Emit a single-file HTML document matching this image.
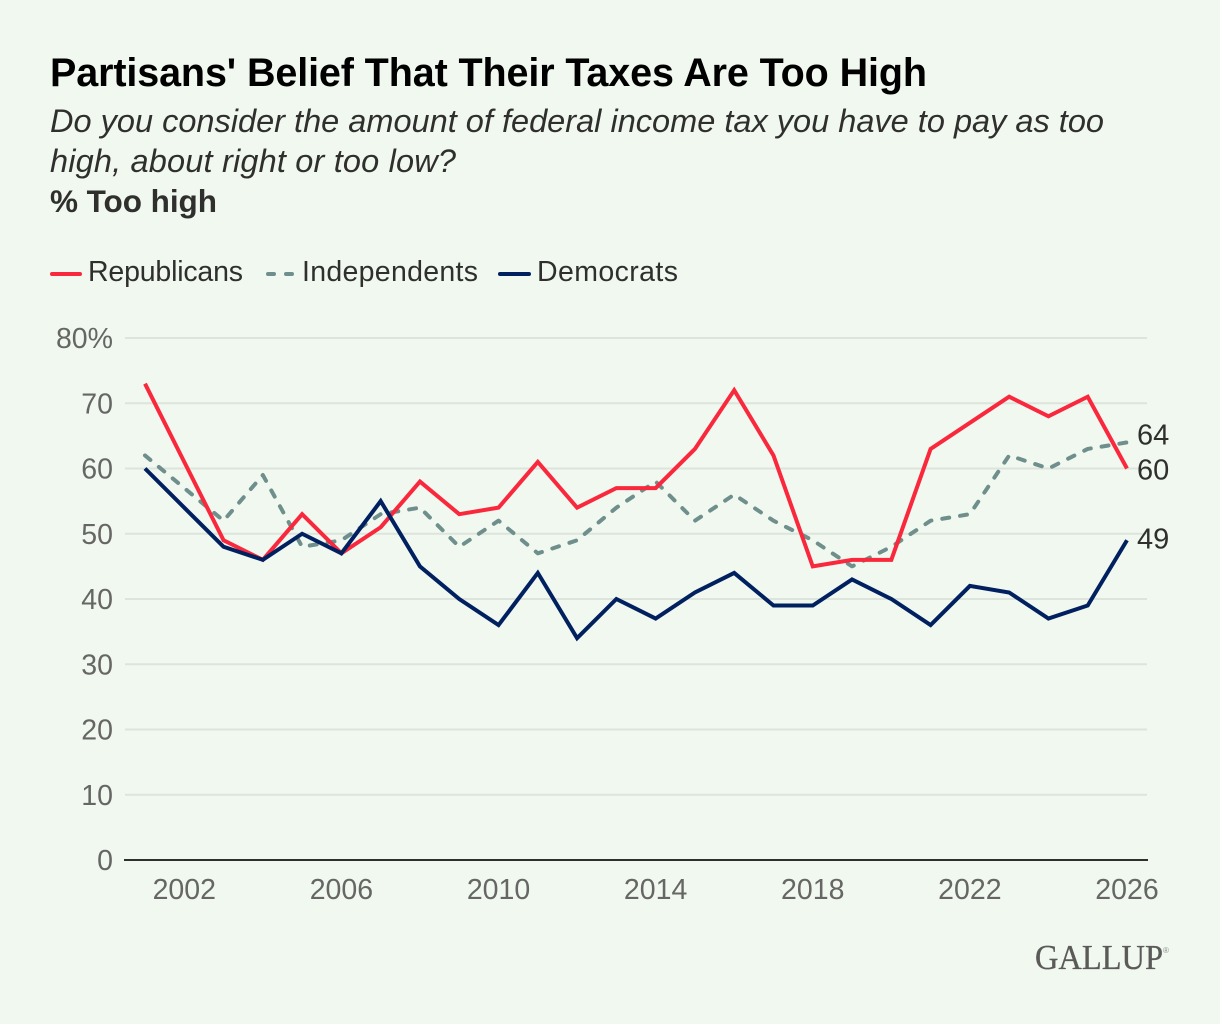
<!DOCTYPE html>
<html lang="en">
<head>
<meta charset="utf-8">
<title>Partisans' Belief That Their Taxes Are Too High</title>
<style>
html,body{margin:0;padding:0;background:#f1f8f0;width:1220px;height:1024px;overflow:hidden}
svg{display:block;font-family:"Liberation Sans",sans-serif}
</style>
</head>
<body>
<svg id="chart" xmlns="http://www.w3.org/2000/svg" width="1220" height="1024" viewBox="0 0 1220 1024">
  <rect x="0" y="0" width="1220" height="1024" fill="#f1f8f0"/>
  <text x="50" y="86" font-size="39.5" font-weight="700" fill="#000" textLength="877" lengthAdjust="spacing">Partisans' Belief That Their Taxes Are Too High</text>
  <text x="50" y="132" font-size="32.5" font-style="italic" fill="#2f302e" textLength="1054" lengthAdjust="spacing">Do you consider the amount of federal income tax you have to pay as too</text>
  <text x="50" y="172" font-size="32.5" font-style="italic" fill="#2f302e" textLength="406" lengthAdjust="spacing">high, about right or too low?</text>
  <text x="50" y="212" font-size="31.5" font-weight="700" fill="#2f302e" textLength="167" lengthAdjust="spacing">% Too high</text>

  <g>
    <line x1="52" y1="274" x2="80" y2="274" stroke="#f9283c" stroke-width="4" stroke-linecap="round"/>
    <text x="88" y="281" font-size="28.5" fill="#2f302e" textLength="155" lengthAdjust="spacing">Republicans</text>
    <line x1="268" y1="274" x2="294" y2="274" stroke="#6f8f8c" stroke-width="4" stroke-linecap="round" stroke-dasharray="6 12"/>
    <text x="302" y="281" font-size="28.5" fill="#2f302e" textLength="176" lengthAdjust="spacing">Independents</text>
    <line x1="500" y1="274" x2="529" y2="274" stroke="#00205f" stroke-width="4" stroke-linecap="round"/>
    <text x="537" y="281" font-size="28.5" fill="#2f302e" textLength="141" lengthAdjust="spacing">Democrats</text>
  </g>

  <g id="y-grid"></g>
  <g id="x-axis"></g>
  <g id="series"></g>
  <g id="end-labels"></g>

  <text x="1035" y="969" font-family="Liberation Serif, serif" font-size="35" fill="#5a5a58" stroke="#5a5a58" stroke-width="0.3" textLength="128" lengthAdjust="spacingAndGlyphs">GALLUP</text>
  <text x="1163" y="953" font-family="Liberation Sans, sans-serif" font-size="8" fill="#8a8a88">®</text>
</svg>
<script>
const years = [2001,2002,2003,2004,2005,2006,2007,2008,2009,2010,2011,2012,2013,2014,2015,2016,2017,2018,2019,2020,2021,2022,2023,2024,2025,2026];
const republicans = [73,61,49,46,53,47,51,58,53,54,61,54,57,57,63,72,62,45,46,46,63,67,71,68,71,60];
const independents = [62,57,52,59,48,49,53,54,48,52,47,49,54,58,52,56,52,49,45,48,52,53,62,60,63,64];
const democrats = [60,54,48,46,50,47,55,45,40,36,44,34,40,37,41,44,39,39,43,40,36,42,41,37,39,49];
const yTicks = [0,10,20,30,40,50,60,70,80];
const xTicks = [2002,2006,2010,2014,2018,2022,2026];

const NS = 'http://www.w3.org/2000/svg';
function xScale(year){ return 145 + (year - 2001) * (1127 - 145) / 25; }
function yScale(v){ return 860 - v * (860 - 338) / 80; }
function make(tag, attrs, parent, txt){
  const el = document.createElementNS(NS, tag);
  for (const k in attrs) el.setAttribute(k, attrs[k]);
  if (txt !== undefined) el.textContent = txt;
  parent.appendChild(el);
  return el;
}

const yGroup = document.getElementById('y-grid');
yTicks.forEach(function(t){
  const y = yScale(t);
  if (t !== 0) {
    const g = make('line', {x1:125, x2:1147, y1:y, y2:y, stroke:'#dce4dc', 'stroke-width':2}, yGroup);
    
    
  }
  const lab = make('text', {x:113, y:y+10, 'text-anchor':'end', 'font-size':28.5, fill:'#666764'}, yGroup, t === 80 ? '80%' : String(t));
  
  
});

const xGroup = document.getElementById('x-axis');
const base = make('line', {x1:124, x2:1148, y1:yScale(0), y2:yScale(0), stroke:'#2f302e', 'stroke-width':2}, xGroup);


xTicks.forEach(function(t){
  const lab = make('text', {x:xScale(t), y:899, 'text-anchor':'middle', 'font-size':28.5, fill:'#666764'}, xGroup, String(t));
  
  
});

function pathFor(values){
  return values.map(function(v, i){ return (i ? 'L' : 'M') + xScale(years[i]).toFixed(2) + ' ' + yScale(v).toFixed(2); }).join(' ');
}
const seriesGroup = document.getElementById('series');

const indLine = make('path', {d:pathFor(independents), fill:'none', stroke:'#6f8f8c', 'stroke-width':4, 'stroke-linecap':'round', 'stroke-linejoin':'round', 'stroke-dasharray':'7 11'}, seriesGroup);



const repLine = make('path', {d:pathFor(republicans), fill:'none', stroke:'#f9283c', 'stroke-width':4, 'stroke-linejoin':'miter'}, seriesGroup);



const demLine = make('path', {d:pathFor(democrats), fill:'none', stroke:'#00205f', 'stroke-width':4, 'stroke-linejoin':'miter'}, seriesGroup);



const endGroup = document.getElementById('end-labels');
const last = years.length - 1;
const lab64 = make('text', {x:1137, y:yScale(independents[last])+2, 'font-size':29, fill:'#2f302e'}, endGroup, String(independents[last]));


const lab60 = make('text', {x:1137, y:yScale(republicans[last])+11, 'font-size':29, fill:'#2f302e'}, endGroup, String(republicans[last]));


const lab49 = make('text', {x:1137, y:yScale(democrats[last])+8, 'font-size':29, fill:'#2f302e'}, endGroup, String(democrats[last]));


</script>
</body>
</html>
